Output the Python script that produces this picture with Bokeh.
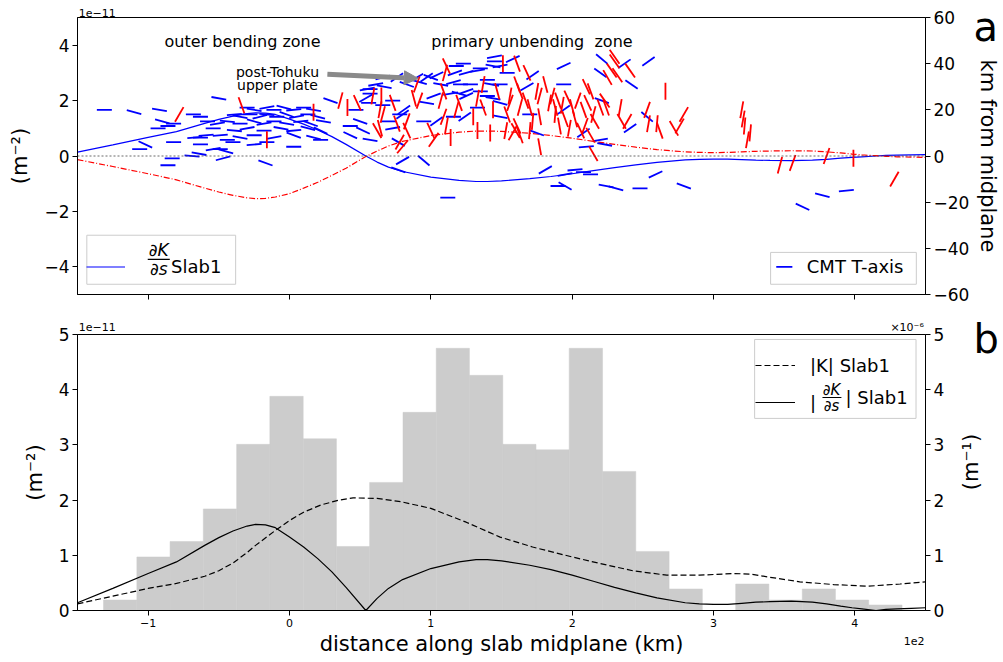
import numpy as np
from bokeh.plotting import figure
from bokeh.layouts import column
from bokeh.models import (Range1d, LinearAxis, FixedTicker, Label, BoxAnnotation, Arrow,
                          NormalHead, Span, ColumnDataSource, Legend, LegendItem)
from bokeh.embed import file_html
from bokeh.resources import INLINE

FONT = "DejaVu Sans"
BLUE = "#0000ff"
RED = "#ff0000"

# ---------------- data ----------------
# distance along slab midplane (km)
curve_x = [-150, -125, -100, -80, -60, -50, -40, -30, -24, -17,
           -10, 0, 10, 20, 30, 40, 54, 62, 70, 80,
           100, 120, 132, 140, 150, 170, 185, 200, 215, 230,
           245, 260, 280, 290, 300, 310, 320, 330, 340, 355,
           370, 380, 390, 398, 405, 415, 422, 430, 440, 450]
# dK/ds Slab1 (x 1e-11 m^-2)
dkds_slab1 = [0.14, 0.40, 0.67, 0.88, 1.18, 1.32, 1.44, 1.53, 1.56, 1.55,
              1.50, 1.33, 1.15, 0.94, 0.70, 0.42, 0.00, -0.22, -0.40, -0.56,
              -0.76, -0.88, -0.92, -0.92, -0.90, -0.82, -0.74, -0.64, -0.53, -0.42,
              -0.32, -0.23, -0.14, -0.12, -0.11, -0.11, -0.13, -0.15, -0.16, -0.17,
              -0.15, -0.12, -0.08, -0.05, -0.03, 0.00, 0.02, 0.03, 0.04, 0.05]
# second (red dash-dot) profile (x 1e-11 m^-2)
dkds_alt = [-0.13, -0.38, -0.64, -0.86, -1.16, -1.30, -1.42, -1.51, -1.54, -1.53,
            -1.48, -1.36, -1.16, -0.95, -0.70, -0.44, -0.02, 0.18, 0.36, 0.53,
            0.74, 0.86, 0.90, 0.90, 0.89, 0.82, 0.74, 0.64, 0.53, 0.42,
            0.32, 0.23, 0.15, 0.13, 0.12, 0.13, 0.15, 0.17, 0.18, 0.19,
            0.18, 0.15, 0.11, 0.07, 0.04, 0.01, -0.01, -0.03, -0.04, -0.05]
# |K| Slab1 (x 1e-6 m^-1)
absK_x = [-150, -125, -100, -80, -60, -50, -40, -30, -24, -10,
          0, 10, 22, 35, 45, 62, 79, 100, 125, 149,
          172, 200, 220, 243, 267, 290, 314, 326, 338, 361,
          385, 409, 432, 450]
absK_slab1 = [0.12, 0.26, 0.40, 0.49, 0.62, 0.72, 0.86, 1.05, 1.18, 1.45,
              1.63, 1.78, 1.91, 2.00, 2.04, 2.03, 1.97, 1.85, 1.60, 1.33,
              1.15, 0.97, 0.85, 0.72, 0.64, 0.64, 0.67, 0.66, 0.61, 0.52,
              0.47, 0.44, 0.48, 0.52]
# histogram of events along the slab
hist_edges = [-131.6, -108.0, -84.5, -61.0, -37.4, -13.9, 9.7, 33.2, 56.7, 80.3,
              103.8, 127.3, 150.9, 174.4, 197.9, 221.5, 245.0, 268.6, 292.1, 315.7,
              339.2, 362.8, 386.3, 409.8, 433.4]
hist_vals = [0.19, 0.97, 1.25, 1.84, 3.01, 3.88, 3.11, 1.16, 2.32, 3.59,
             4.75, 4.26, 3.01, 2.91, 4.75, 2.52, 1.07, 0.39, 0.0, 0.48,
             0.19, 0.39, 0.19, 0.10]

# CMT T-axes: position along slab (km), km from midplane, apparent axis angle (deg)
cmt_x = [
    -131, -110, -92, -50, -34, -78, -68, -63, -90, -86,
    -93, -82, -102, -106, -82, -67, -59, -44, -25, -16,
    -16, -83, -86, -64, -54, -45, -47, -17, -69, -63,
    -49, -40, 3, 22, -30, -25, -16, -11, -4, 3,
    10, 17, -39, -35, -28, -21, -16, -9, -2, 5,
    13, 20, -58, -51, -44, -35, -25, -18, -11, -2,
    8, 15, 24, -54, -39, -30, -18, -6, 3, 13,
    22, -63, -49, -35, -25, -11, 3, 17, 29, 36,
    41, 48, 17,
    54, 57, 57, 61, 59, 65, 67, 73, 56, 66,
    52, 62, 66, 70, 73, 76, 80, 83, 78, 77,
    95, 90, 88, 90, 97, 43, 43, 57, 80, 77,
    50, 47, 55, 66, 76, 73, 78, 64, 64, 112,
    83, 92, 100, 104, 107, 111, 110, 118, 123, 117,
    125, 133, 135, 145, 145, 144, 149, 151, 161, 154,
    168, 172, 140, 137, 143, 149, 116, 121, 128, 109,
    114, 120, 125, 135, 147, 161, 168, 175, 92, 97,
    102, 107, 120, 125, 133, 140, 144, 149, 156, 137,
    133, 81, 83, 95, 100, 104, 109, 111, 116, 118,
    124, 130, 144, 149, 154, 163, 170, 172, 177, 184,
    188, 161, 158, 160, 175, 177, 102, 80, 114, 133,
    142, 181, 190, 158, 163, 156, 167, 177, 181, 170,
    153, 163, 170,
    194, 221, 230, 230, 228, 232, 237, 241, 254, 220,
    225, 242, 194, 266, 210, 213, 186, 190, 193, 197,
    200, 204, 208, 211, 215, 188, 195, 202, 209, 216,
    206, 198, 191, 220, 223, 213, 194, 221, 224, 234,
    235, 239, 241, 253, 253, 254, 260, 262, 272, 276,
    279, 208, 210, 215, 223, 220, 202, 208, 213, 195,
    195, 224, 231, 248, 259, 279,
    320, 321, 322, 326, 324, 347, 356, 380, 399, 428, 363, 377, 394]
cmt_z = [
    20, 19, 20, 25, 22, 18, 18, 17, 15, 13,
    12, 14, 5, 3, 6, 8, 9, 7, 5, 6,
    7, -1, -4, 1, 3, 2, -1, -3, 0, 5,
    3, 6, 4, 7, 21, 20, 21, 20, 21, 20,
    21, 20, 18, 17, 18, 17, 18, 17, 18, 17,
    18, 17, 15, 14, 15, 14, 15, 14, 15, 14,
    15, 14, 15, 12, 11, 12, 11, 12, 11, 12,
    11, 8, 9, 8, 9, 8, 9, 8, 24, 24,
    21, 23, 19,
    25, 27, 29, 31, 26, 26, 30, 23, 23, 22,
    11, 11, 18, 15, 12, 14, 18, 11, 6, 6,
    -2, 31, 25, 34, 34, 13, 9, 7, -2, -6,
    15, 20, 29, 34, 34, 24, 18, 20, 12, -18,
    31, 32, 34, 35, 31, 39, 36, 39, 40, 36,
    36, 37, 38, 43, 41, 39, 39, 40, 40, 36,
    36, 35, 33, 31, 31, 31, 32, 31, 31, 28,
    27, 27, 28, 28, 28, 31, 30, 28, 24, 23,
    26, 24, 23, 26, 25, 26, 25, 23, 23, 21,
    21, 20, 15, 15, 11, 15, 17, 13, 17, 20,
    17, 17, 20, 17, 18, 21, 21, 15, 17, 23,
    21, 13, 10, 11, 10, 4, 7, 4, 8, 11,
    10, -6, -13, 42, 28, 26, 24, 26, 31, 18,
    11, 9, 11,
    39, 42, 43, 41, 37, 35, 40, 37, 41, 36,
    34, 31, 31, 28, 30, 28, 26, 24, 22, 25,
    21, 24, 20, 23, 18, 18, 16, 16, 13, 15,
    11, 12, 13, 21, 24, 9, 20, 24, 21, 21,
    15, 15, 12, 20, 17, 14, 14, 11, 12, 13,
    18, 10, 4, 1, 5, 7, -6, -7, -8, -8,
    -13, -13, -14, -14, -8, -13,
    20, 16, 13, 10, 7, -4, -3, 0, -1, -10, -22, -17, -15]
cmt_ang = [
    0, -15, -10, -10, -70, 60, 0, 0, -15, 0,
    0, 0, -25, 0, 0, 5, 5, 0, 5, 0,
    90, 0, 0, -10, 10, -15, 15, -20, -5, 0,
    0, 0, 0, 0, 0, -10, 10, 0, -15, 5,
    0, -10, 5, -10, 0, 15, -5, 0, -20, 10,
    0, -15, 0, 10, -5, 0, -15, 10, 0, -10,
    5, -20, -10, 0, -5, 10, 0, -10, 5, -15,
    -25, 0, 5, -10, 0, 10, -20, -15, -20, 75,
    90, -65, 90,
    30, 0, 0, 10, 80, 90, -10, -70, 0, 0,
    -25, -60, 75, 0, 10, -70, 35, -65, 60, -30,
    -40, 70, -75, 30, 35, 0, -25, -10, 30, -20,
    -20, 0, 10, 15, 35, 0, 0, 80, -75, 0,
    -20, -15, -20, 25, -10, -65, 75, 0, 0, 20,
    15, 10, 0, 10, 0, -10, 10, 90, -70, 0,
    -65, 35, 0, 80, -10, 0, 15, 0, 0, -70,
    10, -15, 20, 0, -75, -70, 30, 80, 70, -10,
    20, 75, -70, 25, 80, 0, -10, -15, 70, -70,
    0, 35, 70, 0, -65, 35, 70, 80, 0, 75,
    35, 90, 90, -10, -70, 75, -75, 85, -80, 80,
    -75, -65, 60, -60, -20, -80, 55, 50, 90, 90,
    90, 30, 0, 25, -70, 80, -70, 75, -75, 0,
    80, -70, 85,
    25, -40, -55, -55, -55, -55, 35, -55, 35, -35,
    -60, -35, 0, 90, -65, -70, 75, -70, 80, -65,
    -75, 70, -70, -65, 75, 85, -70, -75, 70, -60,
    -65, 80, -80, -70, -55, -60, 35, -20, -70, 80,
    -60, 60, 35, 70, -40, 80, 85, -70, -60, 60,
    60, 35, 5, -60, -10, 10, 5, 0, 0, 10,
    -30, -10, -15, 0, 25, -20,
    80, 80, 85, 85, 80, 75, 70, 70, 90, 60, -25, -15, 5]

x_ticks = [-100, 0, 100, 200, 300, 400]
x_tick_labels = ["\u22121", "0", "1", "2", "3", "4"]
ya_ticks = [-4, -2, 0, 2, 4]
ya_labels = ["\u22124", "\u22122", "0", "2", "4"]
km_ticks = [-60, -40, -20, 0, 20, 40, 60]
km_labels = ["\u221260", "\u221240", "\u221220", "0", "20", "40", "60"]
yb_ticks = [0, 1, 2, 3, 4, 5]
yb_labels = ["0", "1", "2", "3", "4", "5"]


def style_axis(ax, ticks, labels, size="17px"):
    ax.ticker = FixedTicker(ticks=ticks)
    ax.major_label_overrides = {t: l for t, l in zip(ticks, labels)}
    ax.major_label_text_font = FONT
    ax.major_label_text_font_size = size
    ax.major_label_text_color = "black"
    ax.axis_line_color = "black"
    ax.major_tick_line_color = "black"
    ax.major_tick_out = 5
    ax.major_tick_in = 0
    ax.minor_tick_line_color = None
    ax.major_label_standoff = 3
    ax.axis_label_text_font = FONT
    ax.axis_label_text_font_size = "21px"
    ax.axis_label_text_font_style = "normal"
    ax.axis_label_text_color = "black"
    ax.axis_label_standoff = 9


def text_axis(ticks, labels, size, standoff, **kw):
    """An axis that only carries text (no line, no tick marks)."""
    ax = LinearAxis(**kw)
    style_axis(ax, ticks, labels, size)
    ax.axis_line_color = None
    ax.major_tick_line_color = None
    ax.major_tick_out = 0
    ax.major_label_standoff = standoff
    return ax


def right_label(ax, text, n_pad):
    # right-hand axis label reading bottom-to-top, as in the reference
    props = ax.properties()
    if "axis_label_orientation" in props and "axis_label_align" in props:
        ax.axis_label_orientation = float(np.pi / 2)
        ax.axis_label_align = "start"
        ax.axis_label = "\u2007" * n_pad + text
    else:
        ax.axis_label = text


def lab(p, x, y, text, size, align="left", baseline="middle", style="normal"):
    p.add_layout(Label(x=x, y=y, text=text, text_font=FONT, text_font_size=size,
                       text_align=align, text_baseline=baseline, text_font_style=style,
                       text_color="black"))


def frame_box(p, left, right, top, bottom):
    p.add_layout(BoxAnnotation(left=left, right=right, top=top, bottom=bottom,
                               fill_color="white", fill_alpha=0.8, line_color="#cccccc",
                               line_alpha=1.0, line_width=1))


def legend(p, items, loc, pad, gw, gh, standoff, lw, spacing=0):
    lg = Legend(items=items, location=loc, padding=pad, glyph_width=gw, glyph_height=gh,
                label_height=gh, label_standoff=standoff, label_width=lw, spacing=spacing,
                margin=0, label_text_font=FONT, label_text_font_size="18px",
                label_text_color="black", border_line_color=None,
                background_fill_alpha=0.0)
    p.add_layout(lg)


# ---------------- panel a ----------------
p1 = figure(width=1003, height=314, x_range=Range1d(-150, 450), y_range=Range1d(-5, 5),
            output_backend="svg", toolbar_location=None,
            min_border_left=77, min_border_right=76, min_border_top=17, min_border_bottom=20)
p1.grid.visible = False
p1.outline_line_color = "black"
p1.outline_line_alpha = 1.0
style_axis(p1.below[0], x_ticks, ["" for _ in x_ticks])
style_axis(p1.left[0], ya_ticks, ya_labels)
p1.left[0].axis_label = "(m\u207b\u00b2)"
p1.extra_y_ranges = {"km": Range1d(-60, 60)}
ax_km = LinearAxis(y_range_name="km")
style_axis(ax_km, km_ticks, km_labels)
ax_km.axis_label = "km from midplane"   # default side orientation keeps it clear of tick labels
ax_km.axis_label_standoff = 4
p1.add_layout(ax_km, "right")
p1.add_layout(text_axis([56], ["a"], "40px", -30, y_range_name="km"), "right")
p1.add_layout(text_axis([-136], ["1e\u221211"], "11px", 1), "above")

p1.add_layout(Span(location=0, dimension="width", line_color="#444444",
                   line_dash="2 2", line_width=0.8))
r_blue = p1.line(curve_x, dkds_slab1, line_color=BLUE, line_width=1.2)
p1.line(curve_x, dkds_alt, line_color=RED, line_width=1.2, line_dash="6 2 1 2")

ang = np.array(cmt_ang, dtype=float)
steep = np.abs(ang) >= 45
cx = np.array(cmt_x, dtype=float)
cz = np.array(cmt_z, dtype=float)
src_b = ColumnDataSource(dict(x=cx[~steep], z=cz[~steep], a=np.deg2rad(ang[~steep])))
src_r = ColumnDataSource(dict(x=cx[steep], z=cz[steep], a=np.deg2rad(ang[steep])))
p1.scatter("x", "z", source=src_b, marker="dash", size=15, angle="a",
           line_color=BLUE, line_width=1.8, y_range_name="km")
p1.scatter("x", "z", source=src_r, marker="dash", size=17, angle="a",
           line_color=RED, line_width=1.8, y_range_name="km")

lab(p1, -33.2, 4.15, "outer bending zone", "16px", align="center", baseline="alphabetic")
lab(p1, 100.3, 4.15, "primary unbending\u00a0 zone", "16px", baseline="alphabetic")
lab(p1, -8.5, 3.03, "post-Tohuku", "14px", align="center", baseline="alphabetic")
lab(p1, -8.5, 2.55, "upper plate", "14px", align="center", baseline="alphabetic")
p1.add_layout(Arrow(end=NormalHead(size=14, fill_color="#8a8a8a", line_color="#8a8a8a"),
                    x_start=26.8, y_start=2.95, x_end=91.1, y_end=2.80,
                    line_color="#8a8a8a", line_width=5))

# legend: dK/ds Slab1
frame_box(p1, -143.4, -38.1, -2.86, -4.63)
legend(p1, [LegendItem(label="Slab1", renderers=[r_blue])], (9, 10), 7, 39, 35, 46, 50)
lab(p1, -92.5, -3.40, "\u2202K", "17px", align="center", style="italic")
lab(p1, -92.5, -4.09, "\u2202s", "17px", align="center", style="italic")
p1.add_layout(BoxAnnotation(left=-100.3, right=-84.7, bottom=-3.75, top=-3.71,
                            fill_color="black", fill_alpha=1.0, line_color=None))
# legend: CMT T-axis
frame_box(p1, 340.4, 443.5, -3.48, -4.63)
p1.add_layout(BoxAnnotation(left=344.4, right=355.8, bottom=-4.033, top=-3.967,
                            fill_color=BLUE, fill_alpha=1.0, line_color=None))
lab(p1, 366.0, -4.0, "CMT T-axis", "18px")

# ---------------- panel b ----------------
p2 = figure(width=1003, height=348, x_range=Range1d(-150, 450), y_range=Range1d(0, 5),
            output_backend="svg", toolbar_location=None,
            min_border_left=77, min_border_right=76, min_border_top=20, min_border_bottom=52)
p2.grid.visible = False
p2.outline_line_color = "black"
p2.outline_line_alpha = 1.0
style_axis(p2.below[0], x_ticks, x_tick_labels, size="11px")
p2.below[0].axis_label = "distance along slab midplane (km)"
p2.below[0].axis_label_standoff = 2
style_axis(p2.left[0], yb_ticks, yb_labels)
p2.left[0].axis_label = "(m\u207b\u00b2)"
p2.extra_y_ranges = {"k": Range1d(0, 5)}
ax_k = LinearAxis(y_range_name="k")
style_axis(ax_k, yb_ticks, yb_labels)
right_label(ax_k, "(m\u207b\u00b9)", 9)
ax_k.axis_label_standoff = 24
p2.add_layout(ax_k, "right")
p2.add_layout(text_axis([4.98], ["b"], "40px", -25, y_range_name="k"), "right")
p2.add_layout(text_axis([-136, 437], ["1e\u221211", "\u00d710\u207b\u2076"], "11px", 1), "above")
p2.add_layout(text_axis([442], ["1e2"], "11px", -22), "below")

p2.quad(left=hist_edges[:-1], right=hist_edges[1:], bottom=0, top=hist_vals,
        fill_color="#cccccc", line_color="#cccccc", line_width=0.5)
r_absK = p2.line(absK_x, absK_slab1, line_color="black", line_width=1.2, line_dash="6 3",
                 y_range_name="k")
r_absdk = p2.line(curve_x, np.abs(np.array(dkds_slab1)), line_color="black", line_width=1.2)

frame_box(p2, 329.1, 443.3, 4.91, 3.48)
legend(p2, [LegendItem(label="|K| Slab1", renderers=[r_absK]),
            LegendItem(label="|", renderers=[r_absdk])], (678, 192), 5, 40, 32, 15, 97, spacing=5)
lab(p2, 383.5, 4.00, "\u2202K", "15px", align="center", style="italic")
lab(p2, 383.5, 3.70, "\u2202s", "15px", align="center", style="italic")
p2.add_layout(BoxAnnotation(left=377.1, right=390.5, bottom=3.851, top=3.869,
                            fill_color="black", fill_alpha=1.0, line_color=None))
lab(p2, 393.4, 3.86, "| Slab1", "18px")

layout = column(p1, p2)
open("out.html", "w").write(file_html(layout, INLINE))
